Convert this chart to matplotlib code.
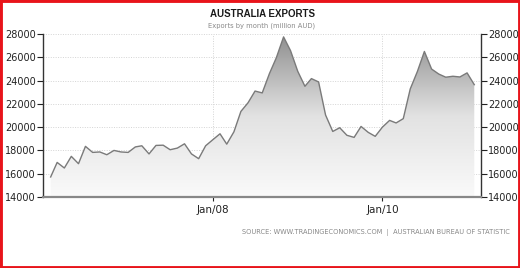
import matplotlib
matplotlib.use("Agg")
import matplotlib.pyplot as plt
import matplotlib.dates as mdates
from matplotlib.patches import Rectangle
from matplotlib.colors import LinearSegmentedColormap
import numpy as np
import pandas as pd

title = "AUSTRALIA EXPORTS"
subtitle = "Exports by month (million AUD)"
source = "SOURCE: WWW.TRADINGECONOMICS.COM  |  AUSTRALIAN BUREAU OF STATISTIC"

months = pd.date_range("2006-02-01", periods=61, freq="MS")
exports = [15720, 16970, 16490, 17490, 16860, 18350, 17830, 17870, 17630, 18000,
           17870, 17830, 18300, 18400, 17700, 18430, 18450, 18060, 18200, 18570,
           17700, 17290, 18400, 18920, 19430, 18540, 19600, 21350, 22100, 23100,
           22940, 24600, 25970, 27750, 26570, 24800, 23510, 24170, 23880, 21040,
           19630, 19950, 19300, 19120, 20060, 19550, 19210, 20000, 20580, 20360,
           20730, 23280, 24790, 26500, 24990, 24560, 24290, 24370, 24310, 24660,
           23650]
y_ticks = [14000, 16000, 18000, 20000, 22000, 24000, 26000, 28000]
x_tick_dates = ["2008-01-01", "2010-01-01"]
x_tick_labels = ["Jan/08", "Jan/10"]

fig = plt.figure(figsize=(5.2, 2.68), dpi=100)
ax = fig.add_axes([43/520, 1-197/268, (481-43)/520, (197-34)/268])

x = mdates.date2num(months)
y = np.array(exports, dtype=float)
x0 = mdates.date2num(pd.Timestamp("2006-01-01")) - 2
x1 = mdates.date2num(pd.Timestamp("2011-03-01")) + 1
ymin, ymax = 14000, 28000

cmap = LinearSegmentedColormap.from_list("g", ["#fafafa", "#e2e2e2", "#8e8e8e"])
grad = np.linspace(0, 1, 256).reshape(-1, 1)
poly = ax.fill_between(x, y, ymin, color="none", lw=0)
im = ax.imshow(grad, extent=[x0, x1, ymin, ymax], origin="lower", aspect="auto",
               cmap=cmap, zorder=1)
path = poly.get_paths()[0]
im.set_clip_path(path, transform=ax.transData)
ax.plot(x, y, color="#7a7a7a", lw=1.0, zorder=3)

ax.set_xlim(x0, x1)
ax.set_ylim(ymin, ymax)
ax.set_yticks(y_ticks)
ax.set_yticklabels([str(v) for v in y_ticks])
ax.tick_params(axis="y", which="both", left=True, right=True, labelleft=True,
               labelright=True, length=4, width=0.8, color="#222",
               labelsize=7, labelcolor="#222", pad=1)
xt = [mdates.date2num(pd.Timestamp(d)) for d in x_tick_dates]
ax.set_xticks(xt)
ax.set_xticklabels(x_tick_labels)
ax.tick_params(axis="x", length=3, width=0.8, color="#222", labelsize=7.5,
               labelcolor="#222", pad=3)

ax.grid(True, color="#d4d4d4", linestyle=(0, (1, 1.5)), lw=0.7, zorder=0)
ax.set_axisbelow(True)
ax.spines["top"].set_visible(False)
ax.spines["left"].set_color("#333")
ax.spines["right"].set_color("#333")
ax.spines["left"].set_linewidth(1.0)
ax.spines["right"].set_linewidth(1.0)
ax.spines["bottom"].set_color("#888")
ax.spines["bottom"].set_linewidth(1.6)

fig.text(262/520, 1-14/268, title, ha="center", va="center", fontsize=7,
         color="#1a1a1a", fontweight="bold", family="Liberation Sans")
fig.text(262/520, 1-26/268, subtitle, ha="center", va="center", fontsize=4.9,
         color="#8a8a8a")
fig.text(510/520, 1-232/268, source, ha="right", va="center", fontsize=4.8,
         color="#888")

fig.patches.append(Rectangle((0, 0), 1, 1, transform=fig.transFigure,
                             fill=False, edgecolor="#e8141a", lw=3.5))

fig.savefig("out.png", dpi=100)
